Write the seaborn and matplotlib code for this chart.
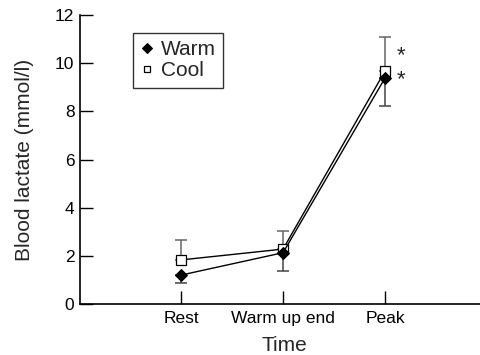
import matplotlib
matplotlib.use("Agg")
import matplotlib.pyplot as plt
import seaborn as sns
import pandas as pd
import numpy as np

times = ["Rest", "Warm up end", "Peak"]
warm_mean = [1.2, 2.13, 9.39]
warm_err = [0.34, 0.75, 1.15]   # downward
cool_mean = [1.83, 2.28, 9.68]
cool_err = [0.83, 0.74, 1.39]   # upward
star_y = [10.3, 9.3]

sns.set_style("ticks")
plt.rcParams['font.family'] = ['Liberation Sans', 'DejaVu Sans']

fig = plt.figure(figsize=(4.8, 3.55), dpi=100)
ax = fig.add_axes([80/480, 1-304/355, 1-80/480, (304-15)/355])

pos = np.arange(len(times))
df = pd.DataFrame({
    "pos": np.concatenate([pos, pos]),
    "Lactate": cool_mean + warm_mean,
    "Condition": ["Cool"] * 3 + ["Warm"] * 3,
})

ax.errorbar(pos, cool_mean, yerr=[np.zeros(3), cool_err], fmt="none",
            ecolor="#666666", elinewidth=1.1, capsize=4.3, capthick=1.1, zorder=1)
ax.errorbar(pos, warm_mean, yerr=[warm_err, np.zeros(3)], fmt="none",
            ecolor="#444444", elinewidth=1.1, capsize=4.3, capthick=1.1, zorder=1)

sns.lineplot(data=df[df.Condition == "Cool"], x="pos", y="Lactate", ax=ax,
             color="black", lw=1.0, marker="s", markersize=6.5,
             markerfacecolor="white", markeredgecolor="black", markeredgewidth=0.9,
             label="Cool", zorder=2)
sns.lineplot(data=df[df.Condition == "Warm"], x="pos", y="Lactate", ax=ax,
             color="black", lw=1.0, marker="D", markersize=6,
             markerfacecolor="black", markeredgecolor="black",
             label="Warm", zorder=3)

for y in star_y:
    ax.annotate("*", xy=(pos[2], y), xytext=(8, 0), textcoords="offset points",
                fontsize=16, va="center", ha="left")

ax.set_xlim(-0.99, 2.93)
ax.set_ylim(0, 12)
ax.set_yticks([0, 2, 4, 6, 8, 10, 12])
ax.set_xticks(pos)
ax.set_xticklabels(times)
ax.tick_params(direction="in", length=9.5, width=1.0, labelsize=12.5, colors="black", pad=5)
ax.tick_params(axis="y", pad=4)
ax.set_xlabel("Time", fontsize=15)
ax.set_ylabel("Blood lactate (mmol/l)", fontsize=15)
ax.xaxis.set_label_coords((284-80)/400, -0.11)
ax.yaxis.set_label_coords(-0.115, 0.5)
sns.despine(ax=ax)
for s in ["left", "bottom"]:
    ax.spines[s].set_linewidth(1.2)
    ax.spines[s].set_color("black")

h, l = ax.get_legend_handles_labels()
order = [l.index("Warm"), l.index("Cool")]
leg = ax.legend([h[i] for i in order], [l[i] for i in order],
                loc="upper left", bbox_to_anchor=((133-80)/400, (304-33)/289),
                borderaxespad=0, fontsize=15, frameon=True, fancybox=False,
                edgecolor="black", handlelength=0.6, handletextpad=0.4,
                labelspacing=0.1, borderpad=0.35)
leg.get_frame().set_linewidth(1.0)
for lh in leg.legend_handles:
    lh.set_linestyle("none")
    lh.set_markersize(5)

fig.savefig("out.png", dpi=100)
